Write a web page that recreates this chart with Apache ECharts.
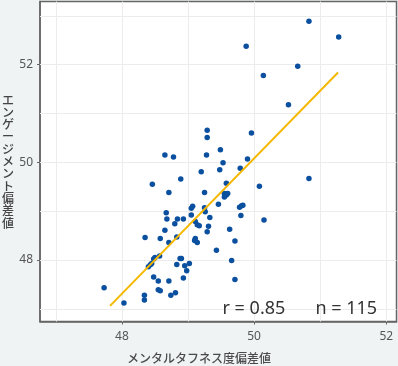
<!DOCTYPE html>
<html>
<head>
<meta charset="utf-8">
<script src="https://cdn.jsdelivr.net/npm/echarts@6/dist/echarts.min.js"></script>
<style>
html,body{margin:0;padding:0;background:#eff3f4;}
#c{width:398px;height:366px;}
</style>
</head>
<body>
<div id="c"></div>
<script>
// ---- data ----
const xTitle = 'メンタルタフネス度偏差値';
const yTitle = 'エンゲージメント偏差値';
const xTickLabels = [48, 50, 52];
const yTickLabels = [48, 50, 52];
const xGridValues = [47, 48, 49, 50, 51, 52];
const yGridValues = [47, 48, 49, 50, 51, 52, 53];
const statR = 'r = 0.85';
const statN = 'n = 115';

const xVals = [50.83,51.28,49.88,50.66,50.14,50.52,49.96,49.29,49.29,49.49,49.28,49.53,49.90,49.79,49.48,49.20,50.83,48.65,48.78,48.89,48.46,49.58,50.08,48.71,48.67,48.68,48.84,48.93,48.80,49.05,49.07,49.05,49.11,48.65,48.35,48.58,48.83,48.71,49.10,49.14,48.57,48.50,48.48,48.43,48.40,48.88,48.90,48.83,48.95,49.02,48.98,48.93,48.48,48.55,48.71,48.55,48.58,48.34,48.34,48.74,48.81,47.73,48.03,49.25,49.55,49.58,49.60,49.55,49.46,49.78,49.83,49.81,49.80,50.15,49.25,49.26,49.33,49.14,49.17,49.31,49.29,49.63,49.71,49.43,49.66,49.71,48.45,49.11];
const yVals = [52.89,52.57,52.38,51.97,51.78,51.18,50.60,50.66,50.51,50.26,50.15,49.99,50.07,49.88,49.85,49.81,49.67,50.15,50.11,49.66,49.55,49.57,49.51,49.38,48.97,48.84,48.84,48.84,48.74,49.06,49.10,48.92,48.79,48.61,48.46,48.44,48.47,48.36,48.40,48.36,48.08,48.05,48.02,47.90,47.86,48.03,48.03,47.91,47.88,47.93,47.78,47.63,47.65,47.57,47.57,47.39,47.37,47.28,47.18,47.28,47.33,47.43,47.12,49.38,49.36,49.33,49.36,49.29,49.14,49.08,49.12,49.11,48.91,48.82,49.07,48.99,48.87,48.72,48.70,48.69,48.58,48.63,48.39,48.20,47.99,47.60,47.93,48.44];

// fitted line end points
const lineX = [47.82, 51.27];
const lineY = [47.06, 51.84];

// ---- build chart ----
const chart = echarts.init(document.getElementById('c'), null, {renderer:'canvas'});
const pts = xVals.map((x,i)=>[x, yVals[i]]);
const fit = lineX.map((x,i)=>[x, lineY[i]]);
const gridLines = xGridValues.map(v=>({xAxis:v})).concat(yGridValues.map(v=>({yAxis:v})));

const axisCommon = {
  type:'value',
  axisLine:{show:true, onZero:false, lineStyle:{color:'#666', width:1.5}},
  axisTick:{show:true, length:3, lineStyle:{color:'#666', width:1}},
  splitLine:{show:false},
  axisLabel:{color:'#555', fontSize:12, fontFamily:'Noto Sans'}
};

chart.setOption({
  animation:false,
  backgroundColor:'#eff3f4',
  grid:{left:40, right:1.5, top:1.5, bottom:44.5, show:true, backgroundColor:'#ffffff', borderColor:'#666', borderWidth:1.5},
  xAxis: Object.assign({}, axisCommon, {
    min:46.76, max:52.155,
    axisTick:Object.assign({}, axisCommon.axisTick, {customValues:xTickLabels}),
    axisLabel:Object.assign({}, axisCommon.axisLabel, {customValues:xTickLabels, margin:9})
  }),
  yAxis: Object.assign({}, axisCommon, {
    min:46.74, max:53.295,
    axisTick:Object.assign({}, axisCommon.axisTick, {customValues:yTickLabels}),
    axisLabel:Object.assign({}, axisCommon.axisLabel, {customValues:yTickLabels, margin:7})
  }),
  series:[
    {
      type:'line', data:[], silent:true, z:1,
      markLine:{silent:true, z:1, symbol:['none','none'], label:{show:false},
        lineStyle:{color:'#ececec', width:1, type:'solid'}, data:gridLines, animation:false}
    },
    {
      type:'scatter', data:pts, symbolSize:5.5, z:3,
      itemStyle:{color:'#0b4f9f', opacity:1}
    },
    {
      type:'line', data:fit, showSymbol:false, symbol:'none', z:4,
      lineStyle:{color:'#f5b800', width:2}
    }
  ],
  graphic:[
    {type:'text', left:'center', bottom:2, style:{text:xTitle, fill:'#4a4a4a', font:'500 12px "Noto Sans CJK JP"'}},
    {type:'text', x:8, y:161.5, style:{text:yTitle.split('').join('\n'), fill:'#444', font:'500 12px "Noto Sans CJK JP"', lineHeight:12.3, align:'center', verticalAlign:'middle'}},
    {type:'text', x:222.5, y:309, z:10, style:{text:statR, fill:'#333', font:'18px "Noto Sans"', verticalAlign:'middle'}},
    {type:'text', x:315.5, y:309, z:10, style:{text:statN, fill:'#333', font:'18px "Noto Sans"', verticalAlign:'middle'}}
  ]
});
</script>
</body>
</html>
